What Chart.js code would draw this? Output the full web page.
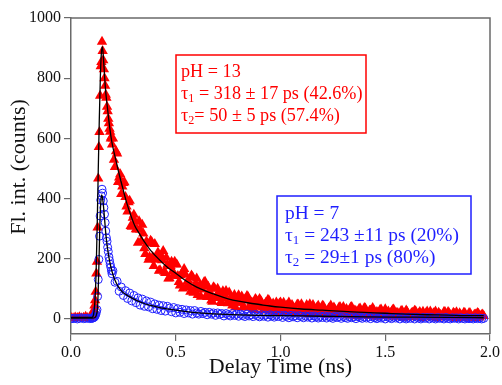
<!DOCTYPE html>
<html><head><meta charset="utf-8">
<script src="https://cdn.jsdelivr.net/npm/chart.js@4.4.0/dist/chart.umd.min.js"></script>
<style>html,body{margin:0;padding:0;background:#fff;}#wrap{width:502px;height:385px;position:relative;}</style>
</head><body><div id="wrap"><canvas id="c" width="502" height="385"></canvas></div>
<script>
// ---- data ----
const timeNs = [
 0,0.01,0.02,0.03,0.04,0.05,0.06,0.07,0.08,0.09,0.10,
 0.103,0.106,0.109,0.112,0.115,0.118,0.121,0.124,0.127,0.130,0.133,0.136,0.139,0.142,0.145,0.148,
 0.151,0.154,0.157,0.160,0.163,0.166,0.169,0.172,0.175,0.178,0.181,0.184,0.187,0.190,0.193,0.196,
 0.20,0.21,0.22,0.23,0.24,0.25,0.26,0.27,0.28,0.29,
 0.30,0.31,0.32,0.33,0.34,0.35,0.36,0.37,0.38,0.39,
 0.40,0.41,0.42,0.43,0.44,0.45,0.46,0.47,0.48,0.49,
 0.50,0.51,0.52,0.53,0.54,0.55,0.56,0.57,0.58,0.59,
 0.60,0.61,0.62,0.63,0.64,0.65,0.66,0.67,0.68,0.69,
 0.70,0.71,0.72,0.73,0.74,0.75,0.76,0.77,0.78,0.79,
 0.80,0.81,0.82,0.83,0.84,0.85,0.86,0.87,0.88,0.89,
 0.90,0.91,0.92,0.93,0.94,0.95,0.96,0.97,0.98,0.99,
 1.00,1.01,1.02,1.03,1.04,1.05,1.06,1.07,1.08,1.09,
 1.10,1.11,1.12,1.13,1.14,1.15,1.16,1.17,1.18,1.19,
 1.20,1.21,1.22,1.23,1.24,1.25,1.26,1.27,1.28,1.29,
 1.30,1.31,1.32,1.33,1.34,1.35,1.36,1.37,1.38,1.39,
 1.40,1.41,1.42,1.43,1.44,1.45,1.46,1.47,1.48,1.49,
 1.50,1.51,1.52,1.53,1.54,1.55,1.56,1.57,1.58,1.59,
 1.60,1.61,1.62,1.63,1.64,1.65,1.66,1.67,1.68,1.69,
 1.70,1.71,1.72,1.73,1.74,1.75,1.76,1.77,1.78,1.79,
 1.80,1.81,1.82,1.83,1.84,1.85,1.86,1.87,1.88,1.89,
 1.90,1.91,1.92,1.93,1.94,1.95,1.96,1.97
];
const redCounts = [
 4,2,5,3,6,2,4,7,3,5,8,
 12,18,30,45,62,90,151,190,304,467,571,621,742,840,854,921,
 890,860,830,800,775,745,735,705,690,665,650,632,622,600,605,580,
 600,505,550,470,415,452,405,357,393,306,
 346,298,253,297,313,235,257,197,260,206,
 249,200,160,211,226,153,180,135,190,145,
 182,143,111,152,166,106,128,90,139,100,
 134,100,74,111,124,73,93,61,105,72,
 100,74,53,83,93,52,69,45,80,54,
 79,56,38,65,76,39,55,35,66,44,
 66,45,30,54,64,31,45,27,55,35,
 55,36,23,45,55,25,38,22,48,30,
 49,31,18,40,49,20,34,18,44,25,
 44,27,15,35,45,17,30,14,39,21,
 40,23,12,31,40,13,26,12,35,18,
 36,20,10,28,36,11,23,10,31,16,
 32,17,8,24,31,8,20,8,27,13,
 28,15,7,21,27,7,18,7,24,11,
 25,13,6,19,25,6,16,6,23,10,
 23,12,5,17,22,5,14,5,20,8,
 20,10,5,15,20,5,13,10
];
// in-between channels of the pH 13 decay (the reference trace is sampled twice as densely)
const redTimeMid = [
 0.205,0.215,0.225,0.235,0.245,0.255,0.265,0.275,0.285,0.295,
 0.305,0.315,0.325,0.335,0.345,0.355,0.365,0.375,0.385,0.395,
 0.405,0.415,0.425,0.435,0.445,0.455,0.465,0.475,0.485,0.495,
 0.505,0.515,0.525,0.535,0.545,0.555,0.565,0.575,0.585,0.595,
 0.605,0.615,0.625,0.635,0.645,0.655,0.665,0.675,0.685,0.695,
 0.705,0.715,0.725,0.735,0.745,0.755,0.765,0.775,0.785,0.795,
 0.805,0.815,0.825,0.835,0.845,0.855,0.865,0.875,0.885,0.895,
 0.905,0.915,0.925,0.935,0.945,0.955,0.965,0.975,0.985,0.995,
 1.005,1.015,1.025,1.035,1.045,1.055,1.065,1.075,1.085,1.095,
 1.105,1.115,1.125,1.135,1.145,1.155,1.165,1.175,1.185,1.195,
 1.205,1.215,1.225,1.235,1.245,1.255,1.265,1.275,1.285,1.295,
 1.305,1.315,1.325,1.335,1.345,1.355,1.365,1.375,1.385,1.395,
 1.405,1.415,1.425,1.435,1.445,1.455,1.465,1.475,1.485,1.495,
 1.505,1.515,1.525,1.535,1.545,1.555,1.565,1.575,1.585,1.595,
 1.605,1.615,1.625,1.635,1.645,1.655,1.665,1.675,1.685,1.695,
 1.705,1.715,1.725,1.735,1.745,1.755,1.765,1.775,1.785,1.795,
 1.805,1.815,1.825,1.835,1.845,1.855,1.865,1.875,1.885,1.895,
 1.905,1.915,1.925,1.935,1.945,1.955,1.965
];
const redCountsMid = [
 529,557,455,481,440,454,374,388,309,336,
 323,297,325,259,284,216,251,206,256,176,
 197,221,162,195,157,203,134,176,159,190,
 181,123,145,101,149,124,106,144,87,118,
 80,113,98,122,77,107,80,57,102,70,
 89,56,92,68,53,88,54,67,39,69,
 54,75,40,61,73,41,53,30,62,41,
 61,38,47,28,61,38,51,22,46,51,
 29,54,33,44,22,46,35,18,47,28,
 38,22,46,16,34,46,23,39,17,29,
 42,23,14,36,27,38,16,29,39,17,
 19,33,12,38,21,28,9,33,22,13,
 35,18,27,11,28,7,21,30,12,23,
 10,25,18,30,9,20,13,26,4,21,
 23,6,19,13,26,9,23,3,15,20,
 10,25,7,19,2,21,13,7,23,11,
 19,8,21,2,14,19,4,21,10,4,
 19,6,14,3,17,9,15
];
const blueCounts = [
 2,1,3,0,2,4,1,2,3,1,2,
 3,4,5,7,10,15,22,31,75,131,198,275,342,395,409,431,
 418,392,370,348,320,292,270,258,238,224,206,194,182,172,160,150,
 160,122,125,92,106,78,94,68,86,60,
 78,54,70,46,66,42,60,40,56,34,
 50,32,46,28,44,26,42,36,24,38,
 20,34,22,32,18,30,20,28,16,28,
 20,16,25,18,22,14,22,16,20,12,
 20,15,18,10,18,14,10,18,12,16,
 9,16,12,8,16,10,14,8,15,11,
 7,14,9,13,6,14,10,6,13,8,
 12,5,12,9,4,12,7,11,4,11,
 8,4,10,6,10,3,10,7,3,9,
 5,10,3,8,6,2,9,5,8,2,
 8,5,2,8,4,7,1,8,5,2,
 7,3,7,1,7,4,1,6,3,6,
 0,7,4,1,6,3,6,0,6,3,
 0,6,2,5,0,6,3,0,5,2,
 5,0,5,3,0,5,2,4,0,5,
 2,0,4,2,4,0,4,2,0,4,
 1,3,0,4,1,3,0,2
];
const redFitTime = [0,0.05,0.10,0.105,0.11,0.115,0.12,0.125,0.13,0.135,0.14,0.145,0.15,0.155,0.16,0.165,0.175,0.185,0.195,0.21,0.225,0.245,0.265,0.285,0.305,0.325,0.345,0.38,0.42,0.46,0.5,0.55,0.6,0.65,0.7,0.75,0.8,0.85,0.9,0.95,1.0,1.1,1.2,1.3,1.4,1.5,1.6,1.7,1.8,1.9,1.97];
const redFitCounts = [5,5,5,8,25,70,160,310,490,660,800,885,905,865,810,760,695,635,588,540,495,440,388,345,309,285,262,228,198,172,152,126,106,91,78,67,59,53,48,43,39,33,29,25,22,19,16,14,13,11,11];
const blueFitTime = [0,0.05,0.10,0.115,0.122,0.127,0.13,0.134,0.138,0.142,0.146,0.15,0.155,0.16,0.165,0.17,0.177,0.185,0.195,0.209,0.225,0.245,0.265,0.3,0.343,0.38,0.423,0.5,0.58,0.66,0.74,0.9,1.0,1.2,1.4,1.6,1.8,1.97];
const blueFitCounts = [3,3,3,5,15,40,100,200,320,385,412,405,375,335,292,258,222,190,160,130,108,90,80,66,53,45,38,29,22,18,15,12,11,9,7,6,5,4];
const xTickValues = [0,0.5,1.0,1.5,2.0];
const yTickValues = [0,200,400,600,800,1000];
const redNote = ['pH = 13', 'τ|1| = 318 ± 17 ps (42.6%)', 'τ|2|= 50 ± 5 ps (57.4%)'];
const blueNote = ['pH = 7', 'τ|1| = 243 ±11 ps (20%)', 'τ|2| = 29±1 ps (80%)'];
const xTitle = 'Delay Time (ns)';
const yTitle = 'Fl. int. (counts)';

// ---- styles / layout ----
const SERIF = "'Liberation Serif','Times New Roman',serif";
const AXIS = '#6a6a6a';
const RED = '#ff0000';
const BLUE = '#1f1fff';

const pts = (t, v) => t.map((x, i) => ({x: x, y: v[i]}));

function drawNote(ctx, lines, color, box, tx, baselines, sx) {
  ctx.save();
  ctx.strokeStyle = color; ctx.lineWidth = 1.5;
  ctx.strokeRect(box[0], box[1], box[2], box[3]);
  ctx.fillStyle = color; ctx.textBaseline = 'alphabetic'; ctx.textAlign = 'left';
  lines.forEach((ln, i) => {
    ctx.save();
    ctx.translate(tx, baselines[i]);
    ctx.scale(sx, 1);
    let x = 0;
    ln.split('|').forEach((seg, k) => {
      const sub = k % 2 === 1;
      ctx.font = (sub ? 12 : 18) + 'px ' + SERIF;
      ctx.fillText(seg, x, sub ? 3 : 0);
      x += ctx.measureText(seg).width;
    });
    ctx.restore();
  });
  ctx.restore();
}

const extras = {
  id: 'extras',
  afterDraw(chart) {
    const {ctx, chartArea: a} = chart;
    ctx.save();
    ctx.strokeStyle = AXIS; ctx.lineWidth = 1.5;
    ctx.beginPath();
    ctx.moveTo(a.left, a.top); ctx.lineTo(a.right, a.top); ctx.lineTo(a.right, a.bottom);
    ctx.stroke();
    ctx.translate(19, 167); ctx.rotate(-Math.PI / 2);
    ctx.font = '22px ' + SERIF; ctx.fillStyle = '#111';
    ctx.textAlign = 'center'; ctx.textBaseline = 'middle';
    ctx.fillText(yTitle, 0, 0);
    ctx.restore();
    drawNote(ctx, redNote, RED, [176, 55, 190, 78], 181, [77, 99, 121], 1.01);
    drawNote(ctx, blueNote, BLUE, [277, 196, 194, 78], 285, [219, 241, 263], 1.08);
  }
};

new Chart(document.getElementById('c').getContext('2d'), {
  type: 'scatter',
  data: { datasets: [
    { label: 'fit pH 13', data: pts(redFitTime, redFitCounts), showLine: true, borderColor: '#000', borderWidth: 1.3, pointRadius: 0, cubicInterpolationMode: 'monotone', order: 0 },
    { label: 'fit pH 7', data: pts(blueFitTime, blueFitCounts), showLine: true, borderColor: '#000', borderWidth: 1.3, pointRadius: 0, cubicInterpolationMode: 'monotone', order: 0 },
    { label: 'pH = 7', data: pts(timeNs, blueCounts), pointStyle: 'circle', pointRadius: 4, borderColor: BLUE, backgroundColor: 'rgba(0,0,0,0)', borderWidth: 1, order: 1 },
    { label: 'pH = 13', data: pts(timeNs, redCounts).concat(pts(redTimeMid, redCountsMid)), pointStyle: 'triangle', pointRadius: 6, borderColor: RED, backgroundColor: RED, borderWidth: 0, order: 2 }
  ]},
  options: {
    responsive: false, animation: false, devicePixelRatio: 1,
    layout: { padding: { top: 18, right: 10, left: 0, bottom: 0 } },
    plugins: { legend: { display: false }, tooltip: { enabled: false } },
    scales: {
      x: {
        type: 'linear', min: 0, max: 2.0,
        afterBuildTicks: s => { s.ticks = xTickValues.map(v => ({value: v})); },
        afterFit: s => { s.height = 51; },
        ticks: { callback: v => Number(v).toFixed(1), font: { family: SERIF, size: 16 }, color: '#111', padding: 2, maxRotation: 0, autoSkip: false },
        grid: { drawOnChartArea: false, drawTicks: true, tickLength: 7, color: AXIS, lineWidth: 1.2 },
        border: { display: true, color: AXIS, width: 1.5 },
        title: { display: true, text: xTitle, font: { family: SERIF, size: 22 }, color: '#111', padding: { top: 0, bottom: 5 } }
      },
      y: {
        type: 'linear', min: -50, max: 1000,
        afterBuildTicks: s => { s.ticks = yTickValues.map(v => ({value: v})); },
        afterFit: s => { s.width = 71; },
        ticks: { callback: v => String(v), font: { family: SERIF, size: 16 }, color: '#111', padding: 3, autoSkip: false },
        grid: { drawOnChartArea: false, drawTicks: true, tickLength: 7, color: AXIS, lineWidth: 1.2 },
        border: { display: true, color: AXIS, width: 1.5 }
      }
    }
  },
  plugins: [extras]
});
</script></body></html>
